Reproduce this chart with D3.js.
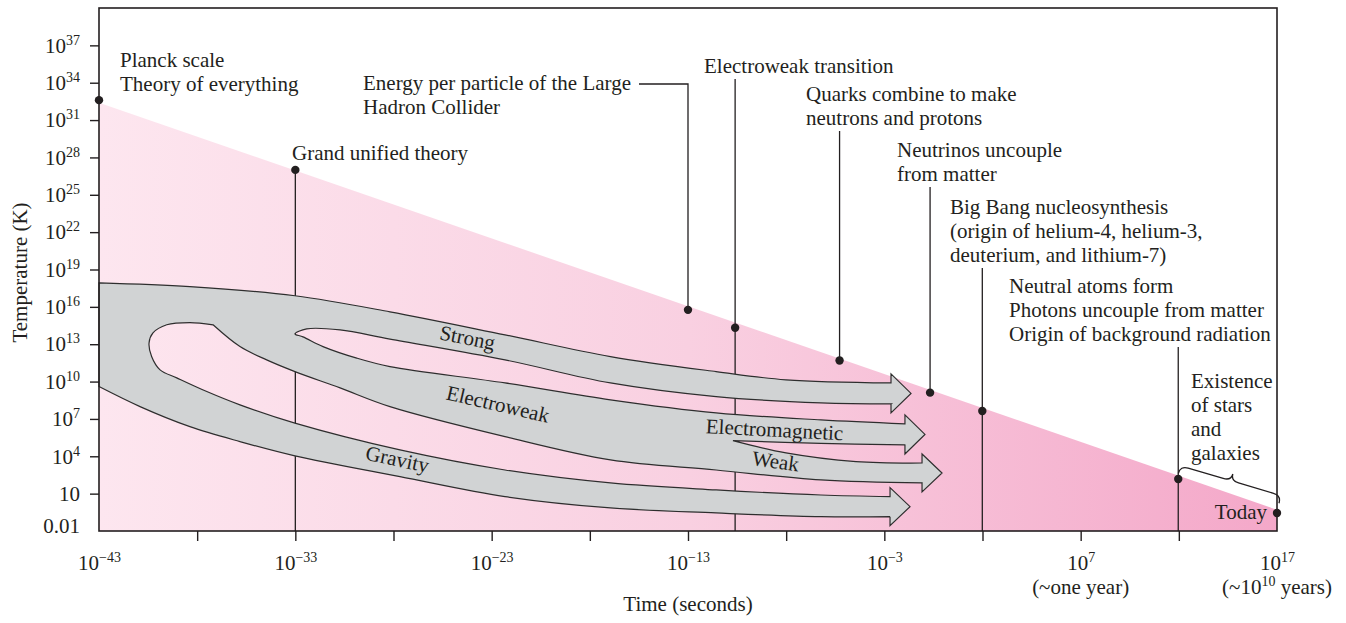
<!DOCTYPE html>
<html>
<head>
<meta charset="utf-8">
<script src="https://cdn.jsdelivr.net/npm/d3@7"></script>
<style>
  body { margin: 0; background: #ffffff; }
  text { font-family: "Liberation Serif", "Times New Roman", serif; font-size: 21px; fill: #231f20; }
</style>
</head>
<body>
<svg id="chart" width="1346" height="623"></svg>
<script>
// ------------------------------------------------------------------
// DATA  (all values are exponents: log10(time / s), log10(T / K))
// ------------------------------------------------------------------
const xTickValues  = [-43, -38, -33, -28, -23, -18, -13, -8, -3, 2, 7, 12, 17];
const xLabelValues = [-43, -33, -23, -13, -3, 7, 17];
const yTickValues  = [-2, 1, 4, 7, 10, 13, 16, 19, 22, 25, 28, 31, 34, 37];

// cooling curve of the universe (upper edge of the pink region)
const coolingLine = [[-43, 32.4], [17, -0.3]];

// events along the cooling curve
const eventNames = ["planck", "gut", "lhc", "ewt", "quarks", "neutrinos", "bbn", "neutral", "today"];
const eventTime  = [-43, -33, -13, -10.6, -5.28, -0.67, 1.99, 11.97, 17];
const eventTemp  = [32.6, 27.0, 15.76, 14.32, 11.69, 9.11, 7.64, 2.18, -0.55];
const eventLabels = [
  ["Planck scale", "Theory of everything"],
  ["Grand unified theory"],
  ["Energy per particle of the Large", "Hadron Collider"],
  ["Electroweak transition"],
  ["Quarks combine to make", "neutrons and protons"],
  ["Neutrinos uncouple", "from matter"],
  ["Big Bang nucleosynthesis", "(origin of helium-4, helium-3,", "deuterium, and lithium-7)"],
  ["Neutral atoms form", "Photons uncouple from matter", "Origin of background radiation"],
  ["Today"]
];
const starsLabel = ["Existence", "of stars", "and", "galaxies"];
const starsSpan  = [[11.97, 2.62], [17.1, 0.23]];   // brace from neutral atoms to today

// force bands: outline pieces (log t, log T)
const outerTop = [[-43,17.93],[-38.37,17.63],[-33.02,16.89],[-28.18,15.6],[-22.32,13.75],[-16.95,12.01],[-11.57,10.8],[-8.01,10.14],[-2.66,9.89]];
const strongArrow = {end: -2.66, top: 9.89, bottom: 8.21};
const strongBottomToEmTop = [[-2.66,8.21],[-6.23,8.29],[-11.57,8.79],[-16.95,9.89],[-22.32,11.74],[-28.18,13.41],[-30.72,14.15],[-32.42,14.23],[-33.02,13.83],[-32.61,13.59],[-31.59,12.81],[-29.87,11.88],[-28.18,11.2],[-22.32,9.89],[-16.95,8.53],[-11.57,7.48],[-6.23,6.92],[-1.95,6.6]];
const emArrow = {end: -1.95, top: 6.6, bottom: 4.91};
const emBottom = [[-1.95,4.91],[-6.23,5.03],[-10.71,5.26]];
const weakTop = [[-10.71,5.26],[-8.01,4.27],[-4.44,3.57],[-1.08,3.46]];
const weakArrow = {end: -1.08, top: 3.46, bottom: 1.86};
const weakBottomToCusp = [[-1.08,1.86],[-6.23,2.1],[-11.57,2.9],[-16.95,3.71],[-22.32,5.58],[-28.18,7.99],[-30.72,9.49],[-33.02,10.8],[-34.46,11.74],[-35.82,12.81],[-37.19,14.56]];
const hole1Loop = [[-37.19,14.56],[-38.37,14.74],[-39.55,14.56],[-40.25,13.91],[-40.45,13.11],[-40.32,12.01],[-39.89,10.94],[-39.04,10.3],[-37.51,9.2],[-35.82,8.13],[-33.02,6.66],[-27.67,4.51],[-22.32,2.9],[-16.95,1.86],[-11.57,1.3],[-6.23,0.89],[-2.71,0.76]];
const gravityArrow = {end: -2.71, top: 0.76, bottom: -0.85};
const gravityBottom = [[-2.71,-0.85],[-6.23,-0.85],[-11.57,-0.55],[-16.95,-0.15],[-22.32,0.76],[-27.67,2.36],[-33.02,4.03],[-35.82,5.18],[-38.37,6.38],[-40.91,7.99],[-43,9.6]];

const bandNames = ["Strong", "Electroweak", "Gravity", "Electromagnetic", "Weak"];
const bandLabelAt = [[-24.23, 13.55], [-22.68, 8.21], [-27.8, 3.79], [-8.59, 6.16], [-8.54, 3.63]];

// ------------------------------------------------------------------
// LAYOUT / STYLE
// ------------------------------------------------------------------
const ink = "#231f20";
const layout = {
  planck:    {x: 120,  y: 66.5},
  gut:       {x: 292,  y: 160},
  lhc:       {x: 363,  y: 90,  leaderY: 84, leaderX: 639},
  ewt:       {x: 704,  y: 73,  line: "full"},
  quarks:    {x: 806,  y: 101, line: "up"},
  neutrinos: {x: 897,  y: 157, line: "up"},
  bbn:       {x: 950,  y: 214, line: "full"},
  neutral:   {x: 1009, y: 293, line: "full"},
  today:     {x: 1267, y: 519, anchor: "end"},
  stars:     {x: 1191, y: 388}
};
const lineH = 24;
const bandAngles = [11, 13, 12, 3, 8];

const svg = d3.select("#chart");
const x = d3.scaleLinear().domain([-43, 17]).range([99, 1277]);
const y = d3.scaleLinear().domain([-2, 40]).range([531, 8]);

// gradient
const defs = svg.append("defs");
const grad = defs.append("linearGradient").attr("id", "pinkGrad")
  .attr("gradientUnits", "userSpaceOnUse")
  .attr("x1", x(-43)).attr("x2", x(17)).attr("y1", 0).attr("y2", 0);
grad.append("stop").attr("offset", "0%").attr("stop-color", "#fde6ef");
grad.append("stop").attr("offset", "50%").attr("stop-color", "#f9d0e1");
grad.append("stop").attr("offset", "100%").attr("stop-color", "#f4a8c9");

// pink region under the cooling line
svg.append("path").datum(coolingLine)
  .attr("d", d3.area().x(d => x(d[0])).y0(y(-2)).y1(d => y(d[1])))
  .attr("fill", "url(#pinkGrad)");

// event vertical lines (under the bands)
const events = eventNames.map((n, i) => ({name: n, t: eventTime[i], T: eventTemp[i], lines: eventLabels[i]}));
const lineG = svg.append("g").attr("stroke", ink).attr("stroke-width", 1.3).attr("fill", "none");
events.forEach(e => {
  const L = layout[e.name];
  const ex = x(e.t), ey = y(e.T);
  const labelBottom = L.y + (e.lines.length - 1) * lineH + 6;
  if (e.name === "gut") {
    lineG.append("line").attr("x1", ex).attr("x2", ex).attr("y1", ey).attr("y2", y(-2));
  } else if (e.name === "lhc") {
    lineG.append("path").attr("d", `M${ex},${ey}V${L.leaderY}H${L.leaderX}`);
  } else if (L.line === "full") {
    lineG.append("line").attr("x1", ex).attr("x2", ex).attr("y1", labelBottom).attr("y2", y(-2));
  } else if (L.line === "up") {
    lineG.append("line").attr("x1", ex).attr("x2", ex).attr("y1", labelBottom).attr("y2", ey);
  }
});

// force bands
const headExt = 9, headLen = 20;
function seg(points) {
  return d3.line().x(d => x(d[0])).y(d => y(d[1])).curve(d3.curveCatmullRom.alpha(0.5))(points);
}
function cont(points) { return seg(points).replace(/^M/, "L"); }
function head(a) {
  const xe = x(a.end), yt = y(a.top), yb = y(a.bottom), ym = (yt + yb) / 2;
  return `L${xe},${yt - headExt}L${xe + headLen},${ym}L${xe},${yb + headExt}L${xe},${yb}`;
}
const bandD = seg(outerTop) + head(strongArrow) + cont(strongBottomToEmTop) + head(emArrow)
  + cont(emBottom) + cont(weakTop) + head(weakArrow) + cont(weakBottomToCusp)
  + cont(hole1Loop) + head(gravityArrow) + cont(gravityBottom) + "Z";
svg.append("path").attr("d", bandD)
  .attr("fill", "#d1d3d4").attr("stroke", "#2e2e2e").attr("stroke-width", 1.2)
  .attr("stroke-linejoin", "miter");

// band labels
svg.append("g").selectAll("text").data(bandNames).join("text")
  .attr("transform", (d, i) => `translate(${x(bandLabelAt[i][0])},${y(bandLabelAt[i][1])}) rotate(${bandAngles[i]})`)
  .attr("text-anchor", "middle").attr("dy", "0.35em")
  .text(d => d);

// frame
svg.append("rect").attr("x", x(-43)).attr("y", y(40))
  .attr("width", x(17) - x(-43)).attr("height", y(-2) - y(40))
  .attr("fill", "none").attr("stroke", ink).attr("stroke-width", 1.6);

// axes
function supLabel(sel, base, exp) {
  sel.append("tspan").text(base);
  if (exp !== null) sel.append("tspan").attr("dy", -8).attr("font-size", 14).text(exp);
}
const fmtExp = v => (v < 0 ? "\u2212" + Math.abs(v) : String(v));

const gx = svg.append("g").attr("transform", `translate(0,${y(-2)})`)
  .call(d3.axisBottom(x).tickValues(xTickValues).tickSizeInner(10).tickSizeOuter(0).tickFormat(""));
gx.attr("font-family", null).attr("font-size", null);
gx.select(".domain").remove();
gx.selectAll(".tick line").attr("stroke", ink).attr("stroke-width", 1.4);
gx.selectAll(".tick").filter(d => d === -43 || d === 17).select("line").remove();
gx.selectAll(".tick text").attr("y", 39).attr("dy", null).each(function(d) {
  if (xLabelValues.includes(d)) supLabel(d3.select(this), "10", fmtExp(d));
});

const gy = svg.append("g").attr("transform", `translate(${x(-43)},0)`)
  .call(d3.axisLeft(y).tickValues(yTickValues).tickSizeInner(9).tickSizeOuter(0).tickPadding(10).tickFormat(""));
gy.attr("font-family", null).attr("font-size", null);
gy.select(".domain").remove();
gy.selectAll(".tick line").attr("stroke", ink).attr("stroke-width", 1.4);
gy.selectAll(".tick").filter(d => d === -2).select("line").remove();
gy.selectAll(".tick text").attr("dy", "0.32em").each(function(d) {
  const s = d3.select(this);
  if (d === -2) { s.attr("y", -5); s.append("tspan").text("0.01"); }
  else if (d === 1) s.append("tspan").text("10");
  else supLabel(s, "10", fmtExp(d));
});

// secondary x labels
svg.append("text").attr("x", x(7)).attr("y", 594).attr("text-anchor", "middle").text("(~one year)");
const yrs = svg.append("text").attr("x", x(17)).attr("y", 594).attr("text-anchor", "middle");
yrs.append("tspan").text("(~10");
yrs.append("tspan").attr("dy", -8).attr("font-size", 14).text("10");
yrs.append("tspan").attr("dy", 8).text(" years)");

// axis titles
svg.append("text").attr("x", (x(-43) + x(17)) / 2).attr("y", 611).attr("text-anchor", "middle").text("Time (seconds)");
svg.append("text").attr("transform", `translate(27,${(y(40) + y(-2)) / 2 + 3}) rotate(-90)`)
  .attr("text-anchor", "middle").text("Temperature (K)");

// event labels
events.forEach(e => {
  const L = layout[e.name];
  const t = svg.append("text").attr("text-anchor", L.anchor || "start");
  e.lines.forEach((ln, k) => t.append("tspan").attr("x", L.x).attr("y", L.y + k * lineH).text(ln));
});
const st = svg.append("text");
starsLabel.forEach((ln, k) => st.append("tspan").attr("x", layout.stars.x).attr("y", layout.stars.y + k * lineH).text(ln));

// brace for stars and galaxies
function bracePath(x1, y1, x2, y2, w, h, q) {
  const dx = x2 - x1, dy = y2 - y1, len = Math.hypot(dx, dy);
  const ux = dx / len, uy = dy / len, nx = uy, ny = -ux;
  const P = (s, t) => `${x1 + ux * s + nx * t},${y1 + uy * s + ny * t}`;
  const m = len / 2;
  return `M${P(0,0)}Q${P(0,w)} ${P(q,w)}L${P(m-q,w)}Q${P(m,w)} ${P(m,h)}Q${P(m,w)} ${P(m+q,w)}L${P(len-q,w)}Q${P(len,w)} ${P(len,0)}`;
}
svg.append("path")
  .attr("d", bracePath(x(starsSpan[0][0]), y(starsSpan[0][1]), x(starsSpan[1][0]), y(starsSpan[1][1]), 8, 15, 8))
  .attr("fill", "none").attr("stroke", ink).attr("stroke-width", 1.3);

// dots
svg.append("g").selectAll("circle").data(events).join("circle")
  .attr("cx", d => x(d.t)).attr("cy", d => y(d.T)).attr("r", 4.2).attr("fill", ink);
</script>
</body>
</html>
